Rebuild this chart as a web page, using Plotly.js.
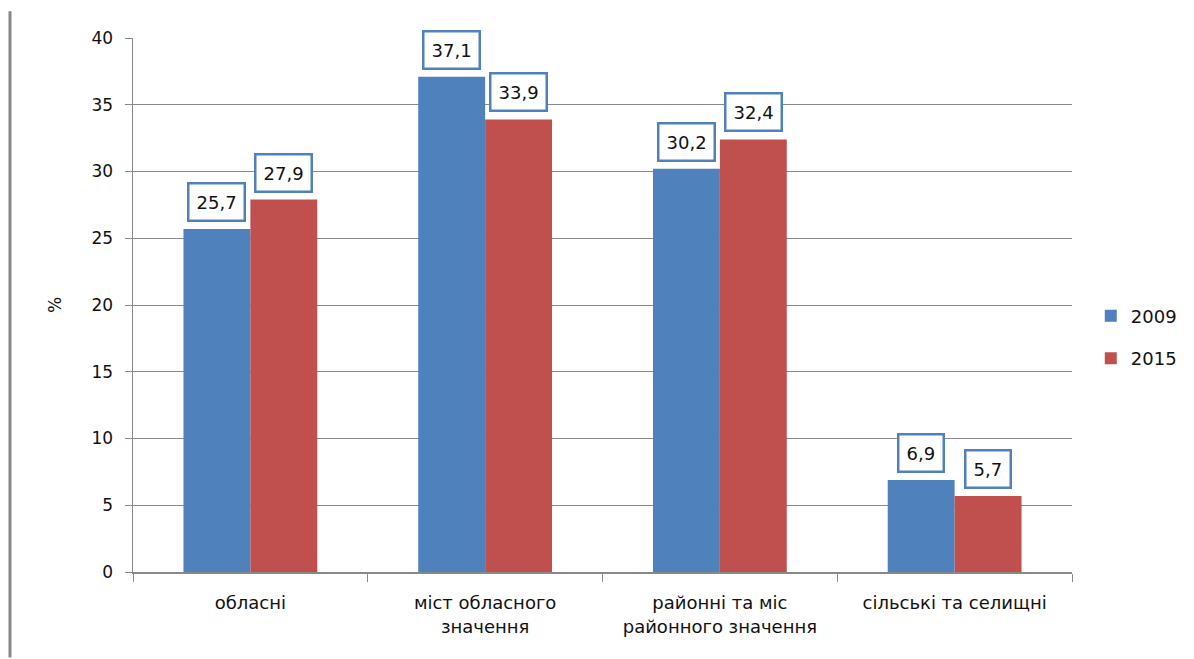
<!DOCTYPE html>
<html><head><meta charset="utf-8">
<script src="https://cdn.plot.ly/plotly-3.0.1.min.js"></script>
<style>body{margin:0;background:#fff}#c{width:1194px;height:659px}</style>
</head><body><div id="c"></div>
<script>
const categories = ["обласні", "міст обласного<br>значення", "районні та міс<br>районного значення", "сільські та селищні"];
const years = ["2009", "2015"];
const values2009 = [25.7, 37.1, 30.2, 6.9];
const values2015 = [27.9, 33.9, 32.4, 5.7];
const colors = ["#4F81BD", "#C0504D"];

const fmt = v => v.toFixed(1).replace(".", ",");
const series = [values2009, values2015];
const traces = series.map((vals, i) => ({
  type: "bar", name: years[i], x: categories, y: vals, legendgroup: years[i],
  marker: {color: colors[i]}, hoverinfo: "skip"
}));
const annotations = [];
series.forEach((vals, i) => {
  vals.forEach((v, j) => {
    annotations.push({
      x: categories[j], y: v, xref: "x", yref: "y",
      text: fmt(v), showarrow: false, yanchor: "bottom",
      xshift: i === 0 ? -33.5 : 33.5, yshift: 7,
      bgcolor: "#fff", bordercolor: "#4F81BD", borderwidth: 2.5, borderpad: 7,
      font: {family: "DejaVu Sans", size: 18, color: "#111"}
    });
  });
});
const layout = {
  width: 1194, height: 659,
  margin: {l: 133, r: 122, t: 38, b: 87},
  paper_bgcolor: "#fff", plot_bgcolor: "#fff",
  barmode: "group", bargap: 0.43, bargroupgap: 0,
  font: {family: "DejaVu Sans", color: "#111"},
  xaxis: {
    type: "category", showline: true, linecolor: "#888", linewidth: 1.5,
    ticks: "outside", tickson: "boundaries", ticklen: 8, tickcolor: "#888",
    tickfont: {size: 18, family: "DejaVu Sans"}, showgrid: false, ticklabelstandoff: 14
  },
  yaxis: {
    range: [0, 40], dtick: 5, showline: true, linecolor: "#888", linewidth: 1.5,
    ticks: "outside", ticklen: 7, tickcolor: "#888",
    gridcolor: "#8a8a8a", gridwidth: 1, zeroline: false,
    tickfont: {size: 17, family: "DejaVu Sans"}, ticklabelstandoff: 8,
    title: {text: "%", font: {size: 17}, standoff: 25}
  },
  legend: {
    x: 1.02, y: 0.44, xanchor: "left", yanchor: "middle",
    font: {size: 18, family: "DejaVu Sans"}, tracegroupgap: 16, itemwidth: 20,
    traceorder: "grouped"
  },
  annotations: annotations,
  shapes: [{type: "line", xref: "paper", yref: "paper",
    x0: -0.131, x1: -0.131, y0: -0.16, y1: 1.05,
    line: {color: "#888", width: 3}}]
};
Plotly.newPlot("c", traces, layout, {staticPlot: true, displayModeBar: false});
</script></body></html>
